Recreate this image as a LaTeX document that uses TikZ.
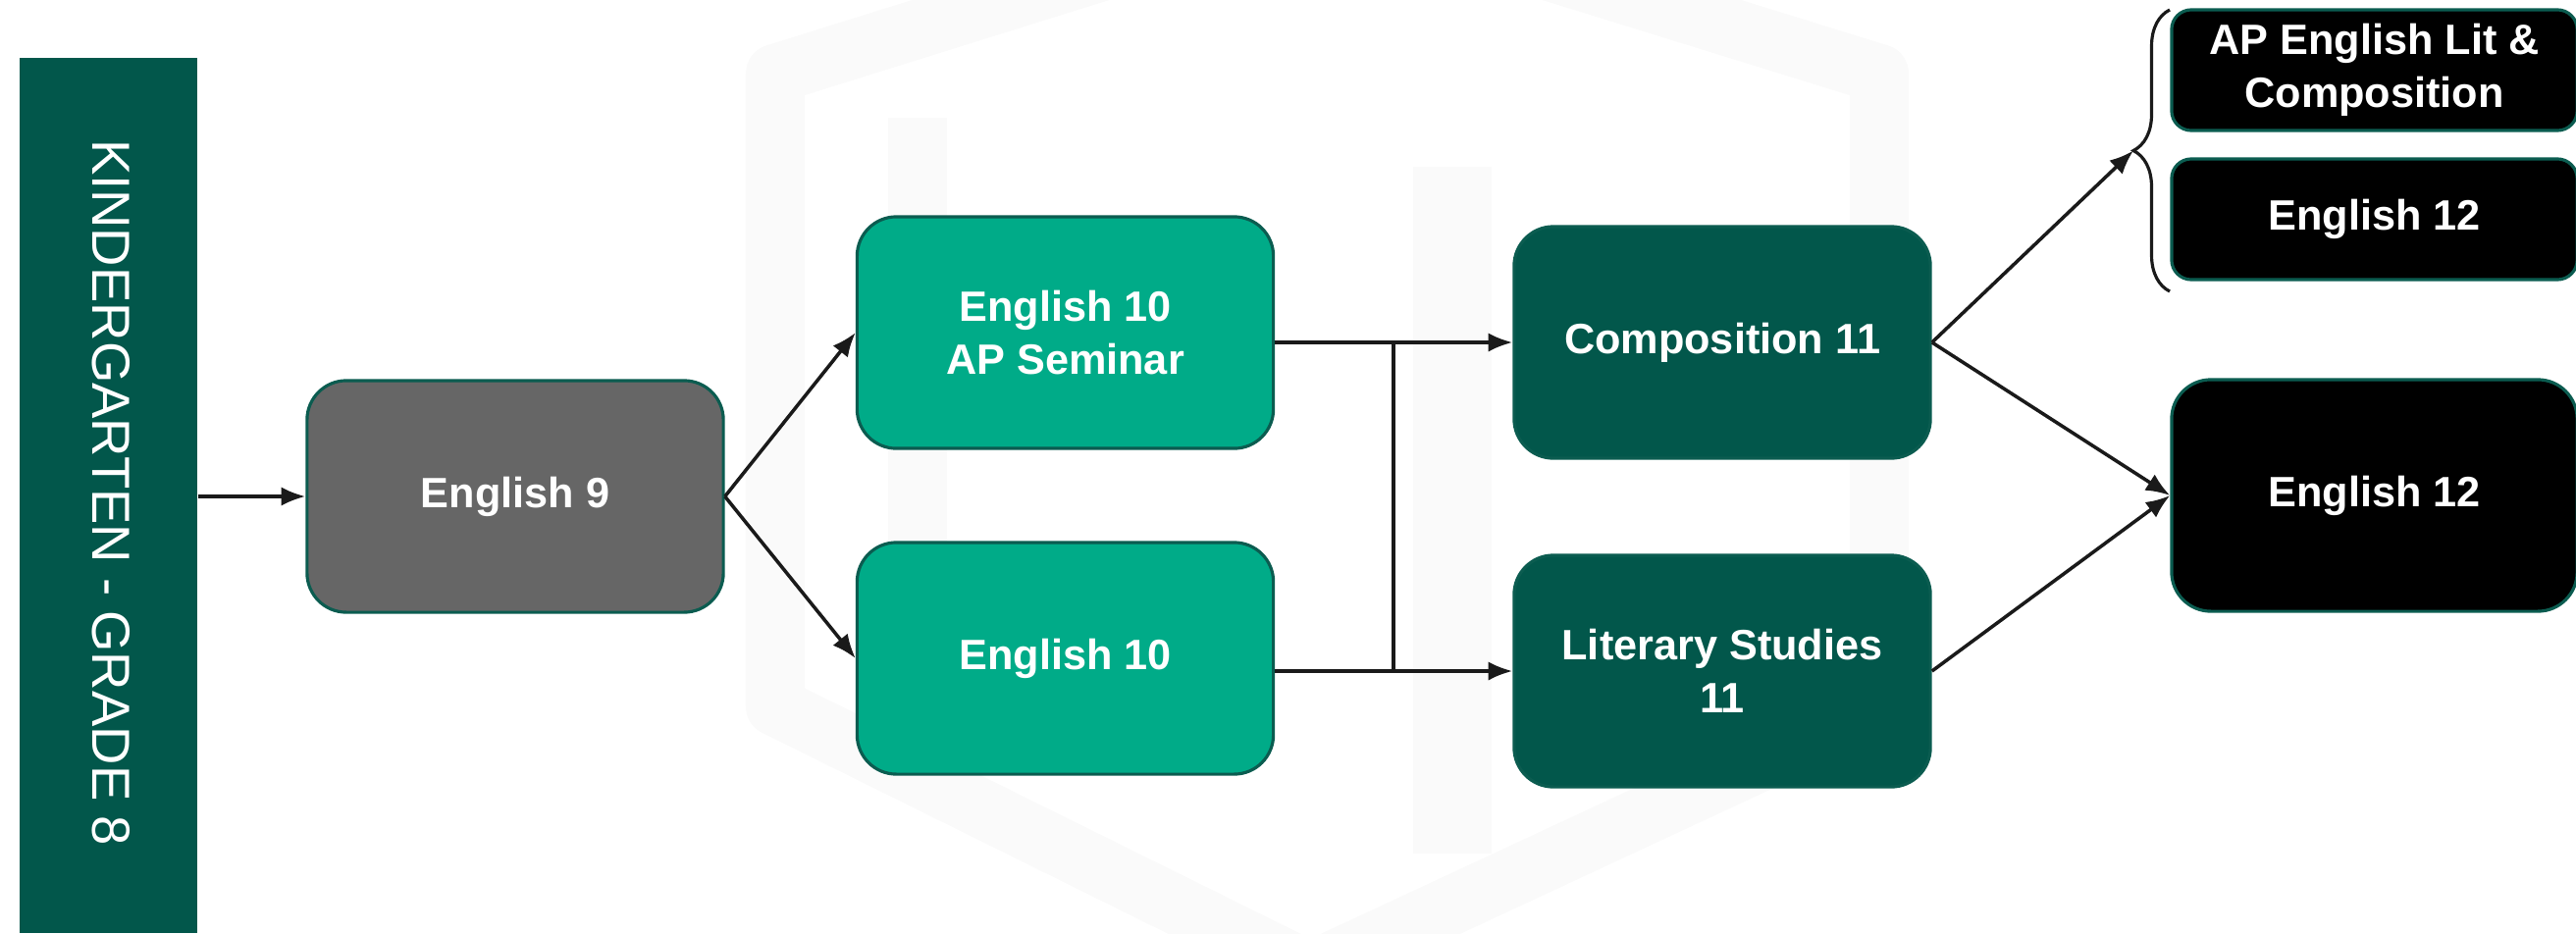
\documentclass[tikz,border=0pt]{standalone}
\usepackage{fontspec}
\setmainfont{Liberation Sans}
\usetikzlibrary{arrows.meta,decorations.pathreplacing}

\definecolor{KGreen}{HTML}{02574B}
\definecolor{Teal}{HTML}{00AB88}
\definecolor{Grey9}{HTML}{666666}
\definecolor{Edge}{HTML}{0B5C50}
\definecolor{Link}{HTML}{1A1A1A}
\definecolor{Mark}{HTML}{FAFAFA}

\begin{document}
\begin{tikzpicture}[x=0.01cm, y=-0.01cm,
  course/.style={rounded corners=0.4cm, draw=Edge, line width=0.9pt, text=white,
    font=\bfseries\fontsize{12.3}{15.4}\selectfont, align=center,
    minimum width=4.24cm, minimum height=2.36cm, inner sep=0pt},
  senior/.style={course, fill=black, minimum width=4.13cm},
  link/.style={draw=Link, line width=1pt, -{Latex[length=7pt,width=5.5pt]}},
  plain/.style={draw=Link, line width=1pt}]

  %%%%%%%%%% Frame %%%%%%%%%%
  \useasboundingbox (0,0) rectangle (2625,951);

  %%%%%%%%%% Watermark %%%%%%%%%%
  \draw [Mark, line width=0.6cm, line join=round] (790,75) -- (1350,-100) -- (1915,75) -- (1915,720) -- (1335,990) -- (790,720) -- cycle;
  \fill [Mark] (905,120) rectangle (965,790);
  \fill [Mark] (1440,170) rectangle (1520,870);

  %%%%%%%%%% Points pour travailler %%%%%%%%%%
  \coordinate (jx) at (1420,0);
  \coordinate (bracetop) at (2211,10);
  \coordinate (bracebot) at (2211,297);
  \coordinate (bracetip) at (2174,153.5);

  %%%%%%%%%% Grade band %%%%%%%%%%
  \node [fill=KGreen, minimum width=1.81cm, minimum height=8.92cm, inner sep=0pt] (kg) at (110.5,505) {};
  \node [rotate=-90, text=white, font=\fontsize{15.5}{18}\selectfont] (kgtext) at (113,502) {KINDERGARTEN - GRADE 8};

  %%%%%%%%%% Courses %%%%%%%%%%
  \node [course, fill=Grey9] (e9) at (525,506) {English 9};
  \node [course, fill=Teal] (e10ap) at (1085.5,339) {English 10\\AP Seminar};
  \node [course, fill=Teal] (e10) at (1085.5,671) {English 10};
  \node [course, fill=KGreen] (comp) at (1755,349) {Composition 11};
  \node [course, fill=KGreen] (lit) at (1755,684) {Literary Studies\\11};

  %%%%%%%%%% Grade 12 %%%%%%%%%%
  \node [senior, rounded corners=0.2cm, minimum height=1.23cm] (aplit) at (2419.5,71.5) {AP English Lit \&\\Composition};
  \node [senior, rounded corners=0.2cm, minimum height=1.23cm] (e12a) at (2419.5,223.5) {English 12};
  \node [senior] (e12) at (2419.5,505) {English 12};

  %%%%%%%%%% Brace %%%%%%%%%%
  \draw [decorate, decoration={brace, amplitude=0.37cm}, draw=Link, line width=0.9pt] (bracebot) -- (bracetop);

  %%%%%%%%%% Links %%%%%%%%%%
  \draw [link] (kg.east |- e9.west) -- (e9.west);
  \draw [link] (e9.east) -- (e10ap.west);
  \draw [link] (e9.east) -- (e10.west);
  \draw [link] (e10ap.east |- comp.west) -- (comp.west);
  \draw [link] (e10.east |- lit.west) -- (lit.west);
  \draw [plain] (comp.west -| jx) -- (lit.west -| jx);
  \draw [link] (comp.east) -- (bracetip);
  \draw [link] (comp.east) -- (e12.west);
  \draw [link] (lit.east) -- (e12.west);

\end{tikzpicture}
\end{document}
